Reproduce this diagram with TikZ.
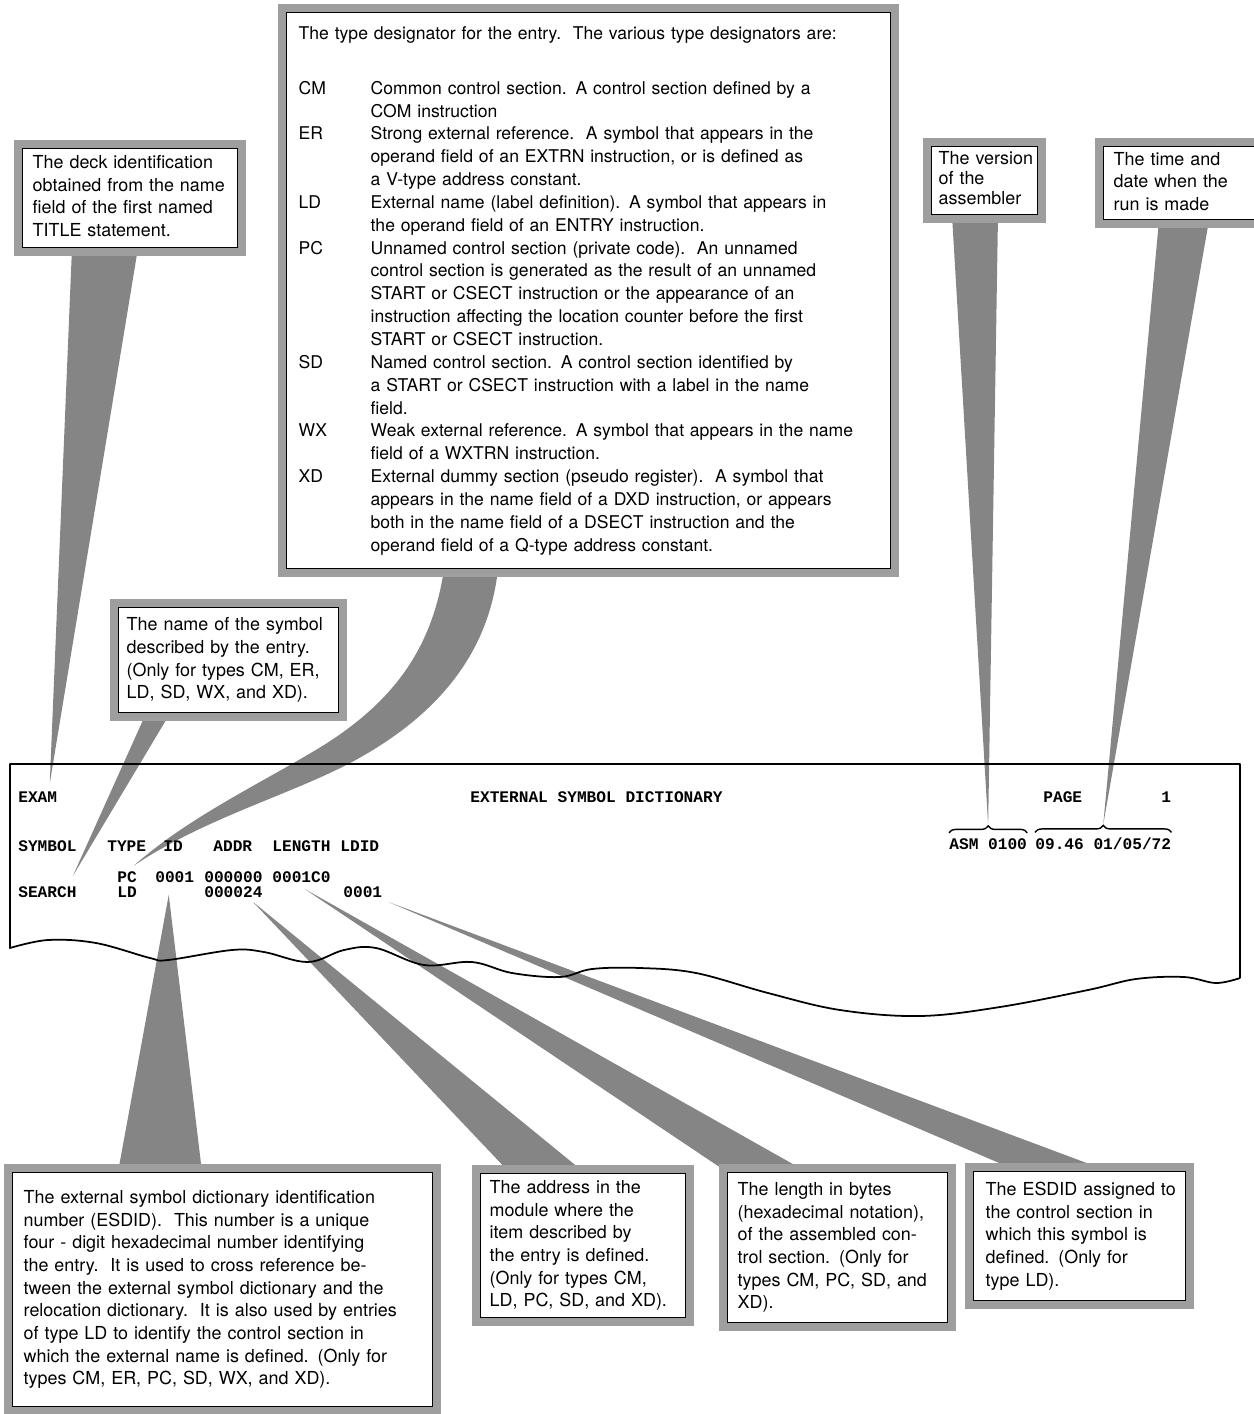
\documentclass[tikz,border=0pt]{standalone}
\usepackage{fontspec}
\setmainfont{TeX Gyre Heros}
\setmonofont{Liberation Mono}
\usetikzlibrary{calc, backgrounds, decorations.pathreplacing}

\definecolor{framegray}{gray}{0.62}
\definecolor{pointergray}{gray}{0.52}

\tikzset{
  note/.style={draw, line width=0.8pt, fill=white, anchor=north west, align=left,
    inner ysep=0.08cm, font=\fontsize{10.2}{12.9}\selectfont,
    preaction={draw=framegray, line width=0.34cm, line join=miter}},
  listing/.style={anchor=west, inner sep=0pt, font=\ttfamily\bfseries\fontsize{9.2}{11}\selectfont},
  pointer/.style={fill=pointergray},
  printout/.style={line width=1pt, line join=round},
  hook/.style={decorate, decoration={brace, amplitude=4pt}, line width=0.8pt},
}

\begin{document}
\begin{tikzpicture}[x=0.02cm, y=-0.02cm]
    \useasboundingbox (0,0) rectangle (1254,1414);

    % the listing
    \node[listing] (exam) at (18,797) {EXAM};
    \node[listing] (title) at (470,797) {EXTERNAL SYMBOL DICTIONARY};
    \node[listing] (page) at (1043,797) {PAGE};
    \node[listing] (pgno) at (1161,797) {1};
    \node[listing] (symcol) at (18,846) {SYMBOL};
    \node[listing] (typecol) at (107,846) {TYPE};
    \node[listing] (idcol) at (163,846) {ID};
    \node[listing] (addrcol) at (213,846) {ADDR};
    \node[listing] (lencol) at (272,846) {LENGTH};
    \node[listing] (ldidcol) at (340,846) {LDID};
    \node[listing] (asm) at (949,844) {ASM 0100};
    \node[listing] (stamp) at (1035,844) {09.46 01/05/72};
    \node[listing] (pc) at (117,877) {PC};
    \node[listing] (id1) at (155,877) {0001};
    \node[listing] (addr1) at (204,877) {000000};
    \node[listing] (len1) at (272,877) {0001C0};
    \node[listing] (search) at (18,892) {SEARCH};
    \node[listing] (ld) at (117,892) {LD};
    \node[listing] (addr2) at (204,892) {000024};
    \node[listing] (ldid2) at (343,892) {0001};

    % paper edge with torn bottom
    \draw[printout] (1240,978) -- (1240,764) -- (10,764) -- (10,948)
        -- plot[smooth, tension=0.6] coordinates {(10,948) (48,940) (96,943) (150,958) (168,960)
        (232,950) (264,952) (308,962) (344,950) (376,948) (424,965) (472,962) (512,973)
        (560,977) (592,969) (640,968) (696,973) (768,993) (840,1010) (920,1016) (1000,1007)
        (1088,990) (1136,979) (1184,977) (1216,983) (1240,978)};

    % braces over version and time stamp
    \draw[hook] ([yshift=3pt]asm.north west) -- ([yshift=3pt]asm.north east);
    \draw[hook] ([yshift=3pt]stamp.north west) -- ([yshift=3pt]stamp.north east);
    \coordinate (asmtip) at ([yshift=7.5pt]asm.north);
    \coordinate (stamptip) at ([yshift=7.5pt]stamp.north);

    % callouts above
    \node[note, text width=3.9cm, inner xsep=0.2cm, minimum height=1.96cm] (deck) at (22,148)
        {\begin{tabular}{@{}l@{}}The deck identification\\ obtained from the name\\
        field of the first named\\ TITLE statement.\end{tabular}};
    \node[note, text width=11.6cm, inner xsep=0.24cm, minimum height=11.12cm,
        font=\fontsize{10}{13}\selectfont] (type) at (286,12)
        {\begin{tabular}{@{}p{1.44cm}@{}l@{}}
        \multicolumn{2}{@{}l@{}}{The type designator for the entry.\ \ The various type designators are:}\\[0.64cm]
        CM & Common control section. A control section defined by a\\
           & COM instruction\\
        ER & Strong external reference.\ \ A symbol that appears in the\\
           & operand field of an EXTRN instruction, or is defined as\\
           & a V-type address constant.\\
        LD & External name (label definition). A symbol that appears in\\
           & the operand field of an ENTRY instruction.\\
        PC & Unnamed control section (private code).\ \ An unnamed\\
           & control section is generated as the result of an unnamed\\
           & START or CSECT instruction or the appearance of an\\
           & instruction affecting the location counter before the first\\
           & START or CSECT instruction.\\
        SD & Named control section. A control section identified by\\
           & a START or CSECT instruction with a label in the name\\
           & field.\\
        WX & Weak external reference. A symbol that appears in the name\\
           & field of a WXTRN instruction.\\
        XD & External dummy section (pseudo register).\ \ A symbol that\\
           & appears in the name field of a DXD instruction, or appears\\
           & both in the name field of a DSECT instruction and the\\
           & operand field of a Q-type address constant.
        \end{tabular}};
    \node[note, text width=1.84cm, inner xsep=0.14cm, minimum height=1.28cm,
        font=\fontsize{10.2}{11.4}\selectfont] (ver) at (931,146)
        {\begin{tabular}{@{}l@{}}The version\\ of the\\ assembler\end{tabular}};
    \node[note, text width=2.78cm, inner xsep=0.2cm, minimum height=1.44cm, inner ysep=0.05cm] (time) at (1103,146)
        {\begin{tabular}{@{}l@{}}The time and\\ date when the\\ run is made\end{tabular}};
    \node[note, text width=4.08cm, inner xsep=0.16cm, minimum height=2.1cm] (sym) at (118,607)
        {\begin{tabular}{@{}l@{}}The name of the symbol\\ described by the entry.\\
        (Only for types CM, ER,\\ LD, SD, WX, and XD).\end{tabular}};

    % callouts below
    \node[note, text width=7.96cm, inner xsep=0.22cm, minimum height=4.68cm] (esdid) at (12,1172)
        {\begin{tabular}{@{}l@{}}The external symbol dictionary identification\\
        number (ESDID).\ \ This number is a unique\\
        four - digit hexadecimal number identifying\\
        the entry.\ \ It is used to cross reference be-\\
        tween the external symbol dictionary and the\\
        relocation dictionary.\ \ It is also used by entries\\
        of type LD to identify the control section in\\
        which the external name is defined. (Only for\\
        types CM, ER, PC, SD, WX, and XD).\end{tabular}};
    \node[note, text width=3.74cm, inner xsep=0.18cm, minimum height=2.88cm] (addr) at (480,1173)
        {\begin{tabular}{@{}l@{}}The address in the\\ module where the\\ item described by\\
        the entry is defined.\\ (Only for types CM,\\ LD, PC, SD, and XD).\end{tabular}};
    \node[note, text width=4.0cm, inner xsep=0.2cm, minimum height=3.0cm] (len) at (727,1172)
        {\begin{tabular}{@{}l@{}}The length in bytes\\ (hexadecimal notation),\\
        of the assembled con-\\ trol section. (Only for\\ types CM, PC, SD, and\\ XD).\end{tabular}};
    \node[note, text width=3.76cm, inner xsep=0.24cm, minimum height=2.58cm] (ldid) at (973,1171)
        {\begin{tabular}{@{}l@{}}The ESDID assigned to\\ the control section in\\
        which this symbol is\\ defined. (Only for\\ type LD).\end{tabular}};

    % pointers from the callouts
    \begin{scope}[on background layer]
        \fill[pointer] ($(deck.south west)+(50,0)$) -- ($(deck.south west)+(116,0)$) -- ($(exam.north)+(12,-8)$) -- cycle;
        \fill[pointer] ($(sym.south west)+(28,0)$) -- ($(sym.south west)+(52,0)$) -- ($(symcol.south east)+(-4,24)$) -- cycle;
        \coordinate (typetip) at ($(typecol.south)+(7,14)$);
        \fill[pointer] ($(type.south west)+(158,0)$) .. controls (432,650) and (392,702) .. (324,745)
            .. controls (262,783) and (190,816) .. (typetip)
            .. controls (205,818) and (290,795) .. (352,762)
            .. controls (430,720) and (488,660) .. ($(type.south west)+(212,0)$) -- cycle;
        \fill[pointer] ($(ver.south west)+(21,0)$) -- ($(ver.south west)+(67,0)$) -- (asmtip) -- cycle;
        \fill[pointer] ($(time.south west)+(56,0)$) -- ($(time.south west)+(106,0)$) -- (stamptip) -- cycle;
        \fill[pointer] ($(esdid.north west)+(106,0)$) -- ($(esdid.north west)+(190,0)$) -- ($(id1.south)+(-6,12)$) -- cycle;
        \fill[pointer] ($(addr.north west)+(30,0)$) -- ($(addr.north west)+(105,0)$) -- ($(addr2.south east)+(-10,4)$) -- cycle;
        \fill[pointer] ($(len.north west)+(0,0)$) -- ($(len.north west)+(80,0)$) -- ($(len1.south)+(3,6)$) -- cycle;
        \fill[pointer] ($(ldid.north west)+(45,0)$) -- ($(ldid.north west)+(135,0)$) -- ($(ldid2.east)+(6,10)$) -- cycle;
    \end{scope}
\end{tikzpicture}
\end{document}
